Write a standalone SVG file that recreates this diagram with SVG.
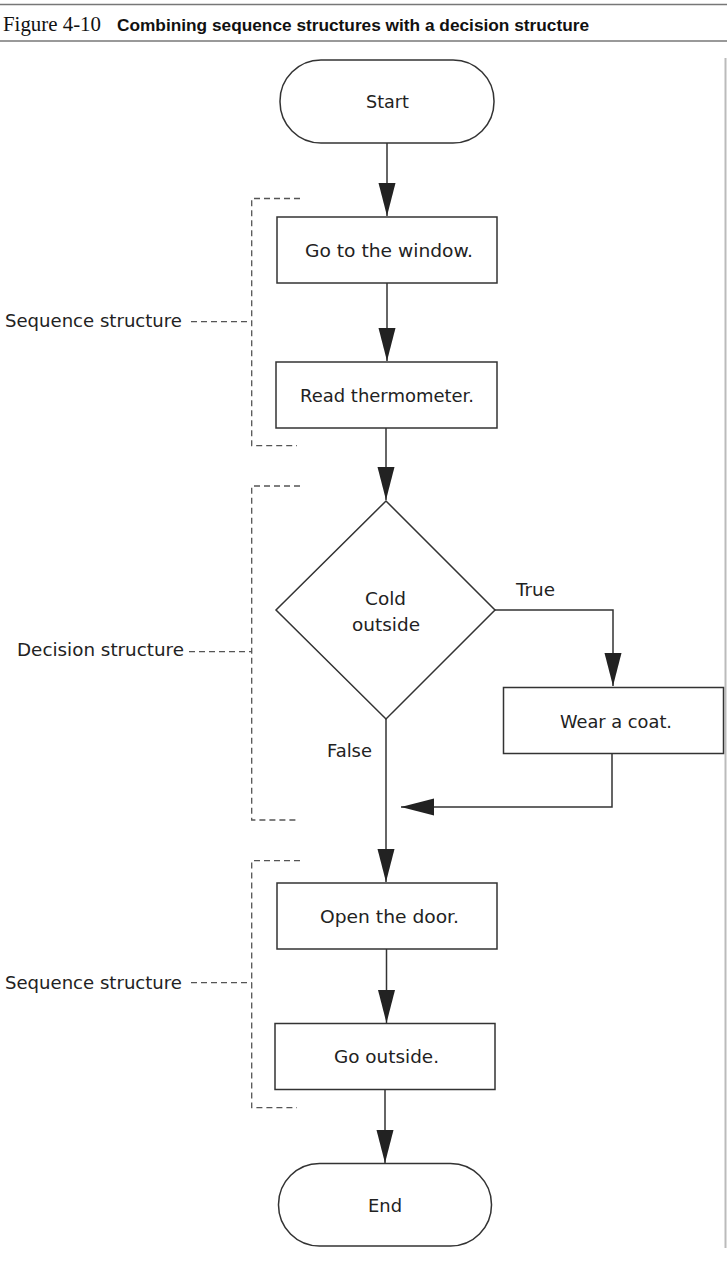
<svg xmlns="http://www.w3.org/2000/svg" width="727" height="1270" viewBox="0 0 727 1270">
<style>
.node{fill:#fff;stroke:#333;stroke-width:1.5}
.lbl{font-family:"DejaVu Sans","Liberation Sans",Arial,sans-serif;font-size:18.5px;fill:#222}
.conn{fill:none;stroke:#333;stroke-width:1.5}
.brk{fill:none;stroke:#555;stroke-width:1.3;stroke-dasharray:6 4}
.rule{stroke:#777;stroke-width:1.5}
</style>
<defs>
<marker id="ah" markerUnits="userSpaceOnUse" markerWidth="34" markerHeight="18" refX="33" refY="8.5" orient="auto">
<path d="M0,0 L33,8.5 L0,17 z" fill="#222"/>
</marker>
</defs>
<rect width="727" height="1270" fill="#fff"/>
<g id="title">
<line class="rule" x1="0" y1="4.5" x2="727" y2="4.5"/>
<line class="rule" x1="0" y1="41" x2="727" y2="41"/>
<text x="3" y="31" font-family="'Liberation Serif','Times New Roman',serif" font-size="21" fill="#111" textLength="98" lengthAdjust="spacingAndGlyphs">Figure 4-10</text>
<text x="117" y="31" font-family="'Liberation Sans',Arial,sans-serif" font-size="16" font-weight="bold" fill="#111" textLength="472" lengthAdjust="spacingAndGlyphs">Combining sequence structures with a decision structure</text>
</g>
<line x1="725.5" y1="58" x2="725.5" y2="1248" stroke="#bbb" stroke-width="2"/>
<g id="connectors">
<path class="conn" d="M387,143 V216" marker-end="url(#ah)"/>
<path class="conn" d="M387,283 V361" marker-end="url(#ah)"/>
<path class="conn" d="M386,428 V500" marker-end="url(#ah)"/>
<path class="conn" d="M495,610 H613 V686" marker-end="url(#ah)"/>
<path class="conn" d="M612,753 V807 H401" marker-end="url(#ah)"/>
<path class="conn" d="M386,719 V882" marker-end="url(#ah)"/>
<path class="conn" d="M386.5,949 V1023" marker-end="url(#ah)"/>
<path class="conn" d="M385,1089 V1163" marker-end="url(#ah)"/>
<text class="lbl" x="516" y="596" textLength="39" lengthAdjust="spacingAndGlyphs">True</text>
<text class="lbl" x="327" y="756.5" textLength="45" lengthAdjust="spacingAndGlyphs">False</text>
</g>
<g id="start">
<rect class="node" x="280" y="60" width="214" height="83" rx="41" ry="41"/>
<text class="lbl" x="366" y="107.5" textLength="43" lengthAdjust="spacingAndGlyphs">Start</text>
</g>
<g id="go-window">
<rect class="node" x="277" y="217" width="220" height="66"/>
<text class="lbl" x="305" y="257" textLength="168" lengthAdjust="spacingAndGlyphs">Go to the window.</text>
</g>
<g id="read-thermometer">
<rect class="node" x="276" y="362" width="221" height="66"/>
<text class="lbl" x="300" y="401.5" textLength="174" lengthAdjust="spacingAndGlyphs">Read thermometer.</text>
</g>
<g id="cold-outside">
<polygon class="node" points="386,501 495,610 386,719 276,610"/>
<text class="lbl" x="365" y="605" textLength="41" lengthAdjust="spacingAndGlyphs">Cold</text>
<text class="lbl" x="352" y="631" textLength="68" lengthAdjust="spacingAndGlyphs">outside</text>
</g>
<g id="wear-coat">
<rect class="node" x="503.5" y="687.5" width="220" height="66"/>
<text class="lbl" x="560" y="728" textLength="112" lengthAdjust="spacingAndGlyphs">Wear a coat.</text>
</g>
<g id="open-door">
<rect class="node" x="277" y="883" width="220" height="66"/>
<text class="lbl" x="320" y="923" textLength="139" lengthAdjust="spacingAndGlyphs">Open the door.</text>
</g>
<g id="go-outside">
<rect class="node" x="275" y="1023.5" width="220" height="66"/>
<text class="lbl" x="334" y="1063" textLength="105" lengthAdjust="spacingAndGlyphs">Go outside.</text>
</g>
<g id="end">
<rect class="node" x="278.5" y="1163.5" width="213" height="82.5" rx="41" ry="41"/>
<text class="lbl" x="368" y="1211.5" textLength="34" lengthAdjust="spacingAndGlyphs">End</text>
</g>
<g id="seq-structure-1">
<path class="brk" d="M300,198.5 H251.7 V445.7 H297"/>
<line class="brk" x1="191" y1="321.7" x2="251.7" y2="321.7"/>
<text class="lbl" x="5" y="326.7" textLength="177" lengthAdjust="spacingAndGlyphs">Sequence structure</text>
</g>
<g id="decision-structure">
<path class="brk" d="M300,486 H251.7 V820 H297"/>
<line class="brk" x1="189" y1="651.7" x2="251.7" y2="651.7"/>
<text class="lbl" x="17" y="656" textLength="167" lengthAdjust="spacingAndGlyphs">Decision structure</text>
</g>
<g id="seq-structure-2">
<path class="brk" d="M300,860.7 H251.7 V1107.7 H297"/>
<line class="brk" x1="191" y1="982.7" x2="251.7" y2="982.7"/>
<text class="lbl" x="5" y="988.7" textLength="177" lengthAdjust="spacingAndGlyphs">Sequence structure</text>
</g>
</svg>
